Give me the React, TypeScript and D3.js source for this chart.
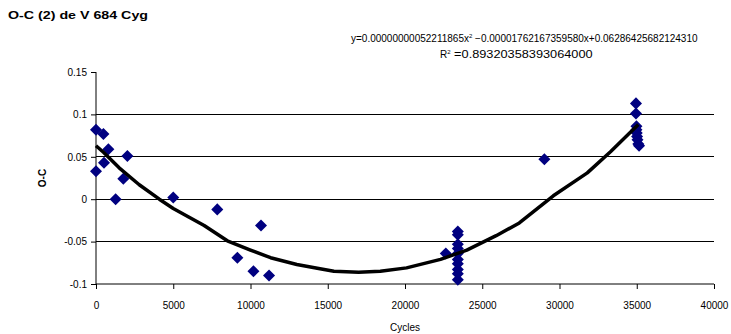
import React, { useRef, useEffect } from "react";
import * as d3 from "d3";

// Observed O-C values (cycle, O-C)
const cycles = [
  0, 0, 480, 520, 800, 1270, 1770, 2030, 5000, 7850, 9150, 10190, 10680, 11200,
  22640, 23420, 23420, 23420, 23420, 23420, 23420, 23420, 23420, 23420, 23420,
  29020, 34950, 34950, 34980, 34980, 35000, 35020, 35050, 35100, 35150,
];
const oc = [
  0.082, 0.033, 0.077, 0.043, 0.059, 0.0, 0.024, 0.051, 0.002, -0.012, -0.069,
  -0.085, -0.031, -0.09, -0.064, -0.038, -0.042, -0.053, -0.058, -0.064, -0.071,
  -0.076, -0.083, -0.088, -0.095, 0.047, 0.113, 0.101, 0.086, 0.082, 0.078,
  0.074, 0.07, 0.065, 0.063,
];

// Trend line as it appears in the chart
const trendCycles = [
  0, 500, 1500, 2800, 4100, 5000, 6000, 7000, 8500, 10000, 11300, 13000, 14500,
  15400, 17000, 18400, 20100, 22300, 24000, 25900, 27400, 29600, 31800, 33300,
  35100,
];
const trendOc = [
  0.063, 0.055, 0.037, 0.017, 0.0, -0.011, -0.021, -0.031, -0.049, -0.06,
  -0.069, -0.077, -0.082, -0.085, -0.086, -0.085, -0.081, -0.071, -0.06, -0.043,
  -0.028, 0.004, 0.031, 0.056, 0.088,
];

const xTicks = [0, 5000, 10000, 15000, 20000, 25000, 30000, 35000, 40000];
const yTicks = [-0.1, -0.05, 0, 0.05, 0.1, 0.15];
const gridTicks = [-0.05, 0, 0.05, 0.1];

const FONT = "Arial, 'Liberation Sans', sans-serif";

const App = () => {
  const svgRef = useRef<SVGSVGElement>(null);

  useEffect(() => {
    const width = 731;
    const height = 334;
    const svg = d3.select(svgRef.current).attr("width", width).attr("height", height);
    svg.selectAll("*").remove();

    const x = d3.scaleLinear().domain([0, 40000]).range([96, 714]);
    const y = d3.scaleLinear().domain([-0.1, 0.15]).range([284, 72]);

    // gridlines
    svg
      .append("g")
      .selectAll("line")
      .data(gridTicks)
      .join("line")
      .attr("x1", x(0))
      .attr("x2", x(40000))
      .attr("y1", (d) => y(d))
      .attr("y2", (d) => y(d))
      .attr("stroke", "#000")
      .attr("stroke-width", 1)
      .attr("shape-rendering", "crispEdges");

    // y axis
    const yAxis = svg
      .append("g")
      .attr("transform", `translate(${x(0)},0)`)
      .call(
        d3
          .axisLeft(y)
          .tickValues(yTicks)
          .tickSize(5)
          .tickPadding(4)
          .tickFormat((d) => String(+d))
      );
    yAxis.select(".domain").attr("stroke", "#000").attr("d", `M0,${y(0.15)}V${y(-0.1)}`);
    yAxis.selectAll("text").attr("font-family", FONT).attr("font-size", 10).attr("fill", "#000");

    // x axis
    const xAxis = svg
      .append("g")
      .attr("transform", `translate(0,${y(-0.1)})`)
      .call(
        d3
          .axisBottom(x)
          .tickValues(xTicks)
          .tickSize(5)
          .tickPadding(13)
          .tickFormat((d) => String(d))
      );
    xAxis.select(".domain").attr("stroke", "#000").attr("d", `M${x(0)},0H${x(40000)}`);
    xAxis.selectAll("text").attr("font-family", FONT).attr("font-size", 10).attr("fill", "#000");

    // trend line
    const line = d3
      .line<number>()
      .x((d, i) => x(trendCycles[i]))
      .y((d) => y(d))
      .curve(d3.curveLinear);

    // points
    const diamond = d3.symbol().type(d3.symbolDiamond2).size(92);
    svg
      .append("g")
      .selectAll("path")
      .data(oc)
      .join("path")
      .attr("d", diamond)
      .attr("transform", (d, i) => `translate(${x(cycles[i])},${y(d)})`)
      .attr("fill", "#000080");

    svg
      .append("path")
      .datum(trendOc)
      .attr("d", line)
      .attr("fill", "none")
      .attr("stroke", "#000")
      .attr("stroke-width", 3.5)
      .attr("stroke-linejoin", "round");

    // title
    svg
      .append("text")
      .attr("x", 8)
      .attr("y", 19)
      .attr("font-family", FONT)
      .attr("font-size", 11)
      .attr("font-weight", "bold")
      .attr("textLength", 140)
      .attr("lengthAdjust", "spacingAndGlyphs")
      .text("O-C (2) de V 684 Cyg");

    // equation
    const eq = svg
      .append("text")
      .attr("x", 351)
      .attr("y", 42)
      .attr("font-family", FONT)
      .attr("font-size", 10);
    eq.append("tspan").text("y=0.00000000052211865x");
    eq.append("tspan").attr("font-size", 6).attr("dy", -4).text("2");
    eq.append("tspan").attr("dy", 4).text(" \u22120.00001762167359580x+0.06286425682124310");

    const r2 = svg
      .append("text")
      .attr("x", 440)
      .attr("y", 58)
      .attr("font-family", FONT)
      .attr("font-size", 10);
    r2.append("tspan").text("R");
    r2.append("tspan").attr("font-size", 6).attr("dy", -4).text("2");
    r2
      .append("tspan")
      .attr("dy", 4)
      .attr("textLength", 142)
      .attr("lengthAdjust", "spacingAndGlyphs")
      .text(" =0.89320358393064000");

    // axis titles
    svg
      .append("text")
      .attr("transform", `translate(46,${(y(0.15) + y(-0.1)) / 2}) rotate(-90)`)
      .attr("text-anchor", "middle")
      .attr("font-family", FONT)
      .attr("font-size", 10)
      .attr("font-weight", "bold")
      .text("O-C");

    svg
      .append("text")
      .attr("x", (x(0) + x(40000)) / 2)
      .attr("y", 331)
      .attr("text-anchor", "middle")
      .attr("font-family", FONT)
      .attr("font-size", 10)
      .text("Cycles");
  }, []);

  return (
    <div style={{ position: "absolute", left: 0, top: 0 }}>
      <svg ref={svgRef} style={{ display: "block", background: "#fff" }}></svg>
    </div>
  );
};

export default App;
